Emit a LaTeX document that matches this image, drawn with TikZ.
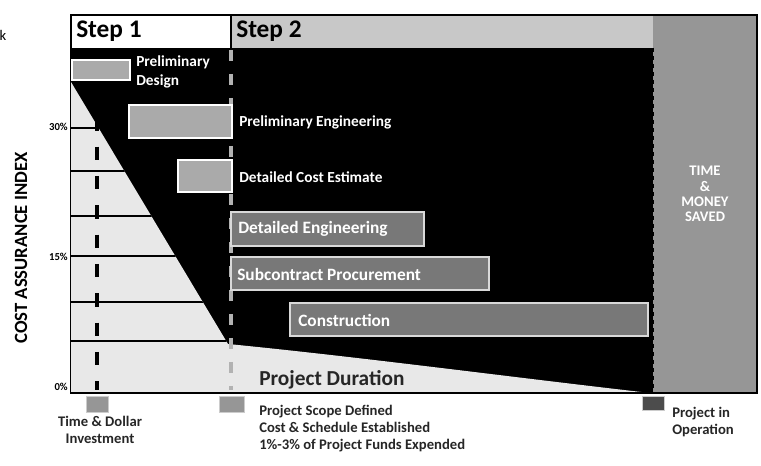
\documentclass[tikz,border=0pt]{standalone}
\usepackage{fontspec}
\setmainfont{Carlito}
\usetikzlibrary{positioning}
\definecolor{barL}{RGB}{170,170,170}
\definecolor{barD}{RGB}{120,120,120}
\definecolor{hdrG}{RGB}{200,200,200}
\definecolor{colG}{RGB}{150,150,150}
\definecolor{lowG}{RGB}{232,232,232}
\tikzset{
  hdr/.style={font=\fontsize{19}{21}\selectfont\bfseries, anchor=west, inner sep=0pt},
  lbl/.style={text=white, font=\fontsize{11.5}{14}\selectfont\bfseries, anchor=west, inner sep=0pt, align=left},
  inlbl/.style={text=white, font=\fontsize{13}{14}\selectfont\bfseries, anchor=west, inner sep=0pt},
  lightbar/.style={fill=barL, draw=white, line width=1pt},
  darkbar/.style={fill=barD, draw=white!85!black, line width=1.2pt},
  btm/.style={text=black!85, font=\fontsize{11}{12.75}\selectfont\bfseries, inner sep=0pt},
  tick/.style={font=\fontsize{8}{9}\selectfont\bfseries, anchor=east, inner sep=0pt},
  marker/.style={fill=colG, draw=gray!40, line width=0.6pt}
}
\begin{document}
\begin{tikzpicture}[x=0.75pt, y=-0.75pt]
\useasboundingbox (0,0) rectangle (761,466);
% ===== frame, header row and saved column =====
\fill[black] (71,48) rectangle (653,393);
\fill[hdrG] (231,15) rectangle (653,48);
\fill[white] (71,15) rectangle (231,48);
\fill[colG] (653,15) rectangle (757,393);
\draw[line width=1.2pt] (71,15) rectangle (757,393);
\draw[line width=0.8pt] (231,15) -- (231,48);
\draw[line width=1pt, dashed] (653,48) -- (653,393);
\node[hdr] (step1) at (76,31) {Step 1};
\node[hdr] (step2) at (236,31) {Step 2};
\node[font=\fontsize{11}{12}\selectfont, inner sep=0pt] (cut) at (3,35) {k};
% ===== light region below the assurance line =====
\fill[lowG] (71,82) -- (228,344) .. controls (360,357) and (510,377) .. (650,393) -- (71,393) -- cycle;
\begin{scope}
\clip (71,82) -- (228,344) .. controls (360,357) and (510,377) .. (650,393) -- (71,393) -- cycle;
\foreach \gy in {128,171,216,256,302,341}
  \draw[line width=1.4pt] (71,\gy) -- (653,\gy);
\end{scope}
\draw[line width=1.4pt] (71,393) -- (653,393);
% milestone guide lines
\draw[line width=2.5pt, dash pattern=on 10pt off 12pt] (97,88) -- (97,390);
\draw[line width=2.5pt, gray!60, dash pattern=on 8pt off 10pt] (231,50) -- (231,390);
% ===== activity bars =====
\draw[lightbar] (72,60) rectangle (130,80);
\node[lbl] (pdes) at (136,72) {Preliminary\\Design};
\draw[lightbar] (129,105) rectangle (232,138);
\node[lbl] (peng) at (239,122) {Preliminary Engineering};
\draw[lightbar] (178,160) rectangle (232,192);
\node[lbl] (dce) at (239,177) {Detailed Cost Estimate};
\draw[darkbar] (231,212) rectangle (424,246);
\node[inlbl] (deng) at (238,229) {Detailed Engineering};
\draw[darkbar] (231,257) rectangle (489,290);
\node[inlbl] (scp) at (237,274) {Subcontract Procurement};
\draw[darkbar] (290,303) rectangle (648,336);
\node[inlbl] (con) at (298,320) {Construction};
\node[font=\fontsize{16}{18}\selectfont\bfseries, text=black!85, anchor=west, inner sep=0pt] (dur) at (259,380) {Project Duration};
\node[text=white, font=\fontsize{11}{11.5}\selectfont\bfseries, align=center, inner sep=0pt] (tms) at (705,194) {TIME\\\&\\MONEY\\SAVED};
% ===== axis =====
\node[tick] (t30) at (68,127) {30\%};
\node[tick] (t15) at (68,257) {15\%};
\node[tick] (t0) at (68,387) {0\%};
\node[rotate=90, font=\fontsize{14}{15}\selectfont\bfseries, inner sep=0pt] (cai) at (21,248) {COST ASSURANCE INDEX};
% ===== milestones =====
\draw[marker] (86,396) rectangle (108,412);
\draw[marker] (219,396) rectangle (244,412);
\draw[marker, fill=black!70] (642,396) rectangle (664,410);
\node[btm, align=center] (tdi) at (100,430) {Time \& Dollar\\Investment};
\node[btm, align=left, anchor=west] (psd) at (259,429) {Project Scope Defined\\Cost \& Schedule Established\\1\%-3\% of Project Funds Expended};
\node[btm, align=left, anchor=west] (pio) at (672,422) {Project in\\Operation};
\end{tikzpicture}
\end{document}
